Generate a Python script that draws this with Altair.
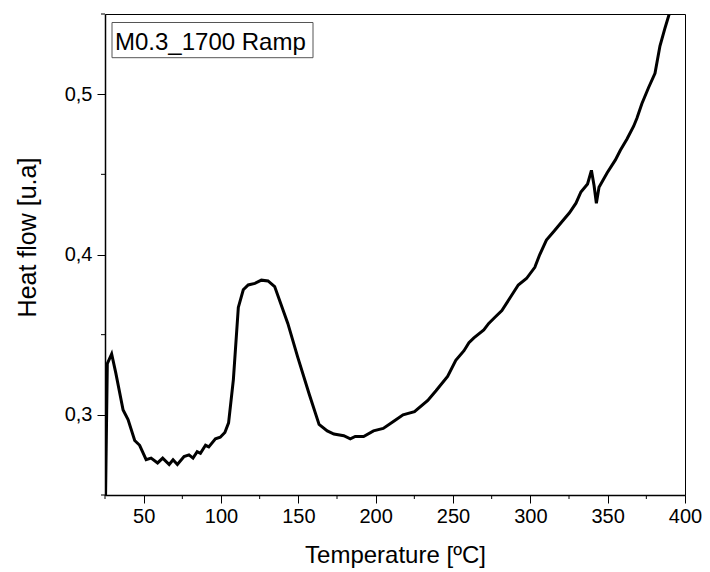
import altair as alt
import pandas as pd

temperature = [25.3, 26.5, 29.3, 32.0, 36.7, 39.9, 44.2, 47.4, 51.6, 54.8,
               59.0, 62.3, 66.5, 69.0, 71.8, 76.1, 79.3, 81.9, 84.6, 86.7,
               90.0, 92.1, 96.4, 99.5, 102.5, 104.9, 108.0, 111.2, 114.4, 117.6,
               121.9, 126.1, 130.4, 134.7, 143.2, 149.6, 157.0, 163.4, 168.7, 173.0,
               179.4, 183.6, 186.8, 192.2, 198.6, 204.9, 212.4, 217.7, 225.1, 233.7,
               239.0, 246.5, 251.8, 257.1, 260.3, 263.5, 269.9, 273.1, 277.3, 281.6,
               286.9, 292.2, 297.5, 302.9, 306.1, 310.4, 315.7, 320.0, 325.3, 329.5,
               332.7, 337.0, 339.5, 341.2, 342.7, 344.4, 349.7, 355.0, 358.2, 362.5,
               366.8, 368.9, 372.1, 376.4, 380.6, 383.8, 387.0, 389.8, 391.0]
heat_flow = [0.245, 0.332, 0.338, 0.326, 0.303, 0.297, 0.284, 0.281, 0.272, 0.273,
             0.270, 0.273, 0.269, 0.272, 0.269, 0.274, 0.275, 0.273, 0.277, 0.276,
             0.281, 0.280, 0.285, 0.286, 0.289, 0.295, 0.322, 0.367, 0.378, 0.381,
             0.382, 0.384, 0.3835, 0.380, 0.357, 0.336, 0.313, 0.294, 0.290, 0.288,
             0.287, 0.285, 0.2865, 0.2865, 0.290, 0.2915, 0.2965, 0.300, 0.302, 0.309,
             0.315, 0.324, 0.334, 0.340, 0.345, 0.348, 0.353, 0.357, 0.361, 0.365,
             0.373, 0.381, 0.385, 0.392, 0.400, 0.409, 0.415, 0.420, 0.426, 0.432,
             0.439, 0.444, 0.4525, 0.443, 0.432, 0.442, 0.451, 0.459, 0.465, 0.472,
             0.480, 0.485, 0.494, 0.504, 0.513, 0.530, 0.541, 0.550, 0.554]

x_major = [50, 100, 150, 200, 250, 300, 350, 400]
x_minor = [25, 75, 125, 175, 225, 275, 325, 375]
y_major = [0.3, 0.4, 0.5]
y_minor = [0.25, 0.35, 0.45, 0.55]
legend_label = "M0.3_1700 Ramp"

df = pd.DataFrame({"T": temperature, "H": heat_flow})
FONT = "Liberation Sans"
W, H = 580, 481

xscale = alt.Scale(domain=[25, 400], nice=False, zero=False)
yscale = alt.Scale(domain=[0.25, 0.55], nice=False, zero=False)

line = alt.Chart(df).mark_line(color="black", strokeWidth=3, clip=True).encode(
    x=alt.X("T:Q", scale=xscale,
            axis=alt.Axis(values=x_major, title="Temperature [ºC]", tickSize=8,
                          labelFlush=False, labelOverlap=False, labelPadding=3,
                          titleY=67, titleBaseline="alphabetic", titleFontSize=24,
                          labelFontSize=20)),
    y=alt.Y("H:Q", scale=yscale,
            axis=alt.Axis(values=y_major, title="Heat flow [u.a]", tickSize=8,
                          labelExpr="replace(format(datum.value, '.1f'), '.', ',')",
                          labelFlush=False, labelOverlap=False, labelPadding=5,
                          titleX=-70, titleY=223, titleAngle=270, titleBaseline="alphabetic",
                          titleFontSize=25, labelFontSize=20)),
)

xminor = alt.Chart(pd.DataFrame({"v": x_minor})).mark_rule(
    color="black", strokeWidth=1, clip=False
).encode(x=alt.X("v:Q", scale=xscale), y=alt.value(H), y2=alt.value(H + 4))

yminor = alt.Chart(pd.DataFrame({"v": y_minor})).mark_rule(
    color="black", strokeWidth=1, clip=False
).encode(y=alt.Y("v:Q", scale=yscale), x=alt.value(0), x2=alt.value(-4))

box = alt.Chart(pd.DataFrame({"a": [0]})).mark_rect(
    fill="white", stroke="#555555", strokeWidth=1
).encode(x=alt.value(7), x2=alt.value(208), y=alt.value(8.5), y2=alt.value(43.7))

label = alt.Chart(pd.DataFrame({"t": [legend_label]})).mark_text(
    font=FONT, fontSize=24, align="left", baseline="alphabetic", color="black"
).encode(x=alt.value(10), y=alt.value(36), text="t:N")

chart = alt.layer(line, xminor, yminor, box, label).properties(
    width=W, height=H,
    autosize=alt.AutoSizeParams(type="none"),
    padding={"left": 97, "top": 6, "right": 17, "bottom": 73},
).configure_view(stroke="black", strokeWidth=1).configure_axis(
    domainColor="black", domainWidth=1.5, tickColor="black", tickWidth=1,
    labelColor="black", titleColor="black", labelFont=FONT, titleFont=FONT,
    titleFontWeight="normal", grid=False,
)

chart.save("out.html", embed_options={"renderer": "svg", "actions": False})
